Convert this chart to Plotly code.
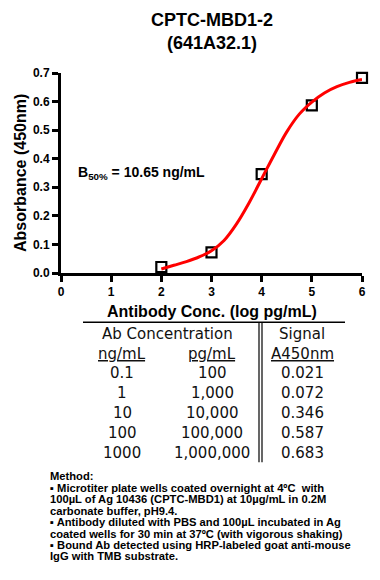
import plotly.graph_objects as go

# ---- data ----
log_conc = [2, 3, 4, 5, 6]
signal = [0.021, 0.072, 0.346, 0.587, 0.683]
ng_ml_labels = ["0.1", "1", "10", "100", "1000"]
pg_ml_labels = ["100", "1,000", "10,000", "100,000", "1,000,000"]
signal_labels = ["0.021", "0.072", "0.346", "0.587", "0.683"]

# fitted curve
fit_x = [2.0, 2.25, 2.5, 2.75, 3.0, 3.25, 3.5, 3.75, 4.0, 4.25, 4.5, 4.75, 5.0, 5.25, 5.5, 5.75, 6.0]
fit_y = [0.014, 0.027, 0.040, 0.056, 0.078, 0.114, 0.172, 0.246, 0.330, 0.414, 0.494, 0.556,
         0.598, 0.630, 0.652, 0.667, 0.677]

x_ticks = [0, 1, 2, 3, 4, 5, 6]
y_ticks = [0.0, 0.1, 0.2, 0.3, 0.4, 0.5, 0.6, 0.7]

title_text = "CPTC-MBD1-2<br>(641A32.1)"
method_lines = [
    "Method:",
    "\u25aa Microtiter plate wells coated overnight at 4\u00baC  with",
    "100\u00b5L of Ag 10436 (CPTC-MBD1) at 10\u00b5g/mL in 0.2M",
    "carbonate buffer, pH9.4.",
    "\u25aa Antibody diluted with PBS and 100\u00b5L incubated in Ag",
    "coated wells for 30 min at 37\u00baC (with vigorous shaking)",
    "\u25aa Bound Ab detected using HRP-labeled goat anti-mouse",
    "IgG with TMB substrate.",
]

# the page body adds an 8px offset; lay out in window pixels and compensate
OFF = 8
W, H = 380 - OFF, 580 - OFF
L, R, T, B = 61, 362, 72.7, 272.7


def px(x):
    return (x - L) / (R - L)


def py(y):
    return (B - y) / (B - T)


BOLD = "Liberation Sans"
fig = go.Figure()
fig.add_trace(go.Scatter(
    x=log_conc, y=signal, mode="markers",
    marker=dict(symbol="square-open", size=10, color="black", line=dict(width=2.2, color="black")),
    cliponaxis=False, showlegend=False))
fig.add_trace(go.Scatter(
    x=fit_x, y=fit_y, mode="lines", line=dict(color="#ff0000", width=3, shape="spline"),
    cliponaxis=False, showlegend=False))

ann = []
# title
ann.append(dict(text="<b>" + title_text + "</b>", xref="paper", yref="paper", x=px(212), y=py(8),
                xanchor="center", yanchor="top", showarrow=False,
                font=dict(family=BOLD, size=18, color="black")))
# y title
ann.append(dict(text="<b>Absorbance (450nm)</b>", xref="paper", yref="paper", x=px(20), y=py(172.7),
                xanchor="center", yanchor="middle", textangle=-90, showarrow=False,
                font=dict(family=BOLD, size=16, color="black")))
# x title
ann.append(dict(text="<b>Antibody Conc. (log pg/mL)</b>", xref="paper", yref="paper", x=px(212), y=py(311),
                xanchor="center", yanchor="middle", showarrow=False,
                font=dict(family=BOLD, size=16, color="black")))
# B50
ann.append(dict(text="<b>B<sub>50%</sub> = 10.65 ng/mL</b>", xref="x", yref="y", x=0.3, y=0.35,
                xanchor="left", yanchor="middle", showarrow=False,
                font=dict(family=BOLD, size=14, color="black")))

# table
TF = dict(family="DejaVu Sans", size=15, color="#111111")
col_ng, col_pg, col_sig = 122, 212, 302
ann.append(dict(text="Ab Concentration", xref="paper", yref="paper", x=px(167), y=py(334),
                xanchor="center", yanchor="middle", showarrow=False, font=TF))
ann.append(dict(text="Signal", xref="paper", yref="paper", x=px(col_sig), y=py(334),
                xanchor="center", yanchor="middle", showarrow=False, font=TF))
for txt, cx in [("ng/mL", col_ng), ("pg/mL", col_pg), ("A450nm", col_sig)]:
    ann.append(dict(text="<u>" + txt + "</u>", xref="paper", yref="paper", x=px(cx), y=py(354),
                    xanchor="center", yanchor="middle", showarrow=False, font=TF))
row_y = [373, 393, 413, 433, 453]
for i in range(len(ng_ml_labels)):
    for txt, cx in [(ng_ml_labels[i], col_ng), (pg_ml_labels[i], col_pg), (signal_labels[i], col_sig)]:
        ann.append(dict(text=txt, xref="paper", yref="paper", x=px(cx), y=py(row_y[i]),
                        xanchor="center", yanchor="middle", showarrow=False, font=TF))

# method
MF = dict(family=BOLD, size=11.2, color="black")
m_top, m_step = 476, 11.45
for k, line in enumerate(method_lines):
    ann.append(dict(text="<b>" + line + "</b>", xref="paper", yref="paper", x=px(48), y=py(m_top + k * m_step),
                    xanchor="left", yanchor="middle", showarrow=False, font=MF))

shapes = [
    dict(type="line", xref="paper", yref="paper", x0=px(83), x1=px(345), y0=py(322), y1=py(322),
         line=dict(color="black", width=1.5)),
    dict(type="line", xref="paper", yref="paper", x0=px(259), x1=px(259), y0=py(322), y1=py(462),
         line=dict(color="black", width=1.2)),
    dict(type="line", xref="paper", yref="paper", x0=px(262), x1=px(262), y0=py(322), y1=py(462),
         line=dict(color="black", width=1.2)),
]

axis_common = dict(showline=True, linewidth=3, linecolor="black", ticks="outside", ticklen=6,
                   tickwidth=2.5, tickcolor="black", showgrid=False, zeroline=False,
                   tickfont=dict(family=BOLD, size=12, color="black"))
fig.update_layout(
    width=W, height=H, plot_bgcolor="white", paper_bgcolor="white",
    margin=dict(l=L - OFF, r=W - (R - OFF), t=T - OFF, b=H - (B - OFF)),
    xaxis=dict(range=[0, 6], tickvals=x_ticks, ticktext=[f"<b>{v}</b>" for v in x_ticks], **axis_common),
    yaxis=dict(range=[0, 0.7], tickvals=y_ticks, ticktext=[f"<b>{v:.1f}</b>" for v in y_ticks], **axis_common),
    annotations=ann, shapes=shapes,
)
fig.write_html("out.html")
